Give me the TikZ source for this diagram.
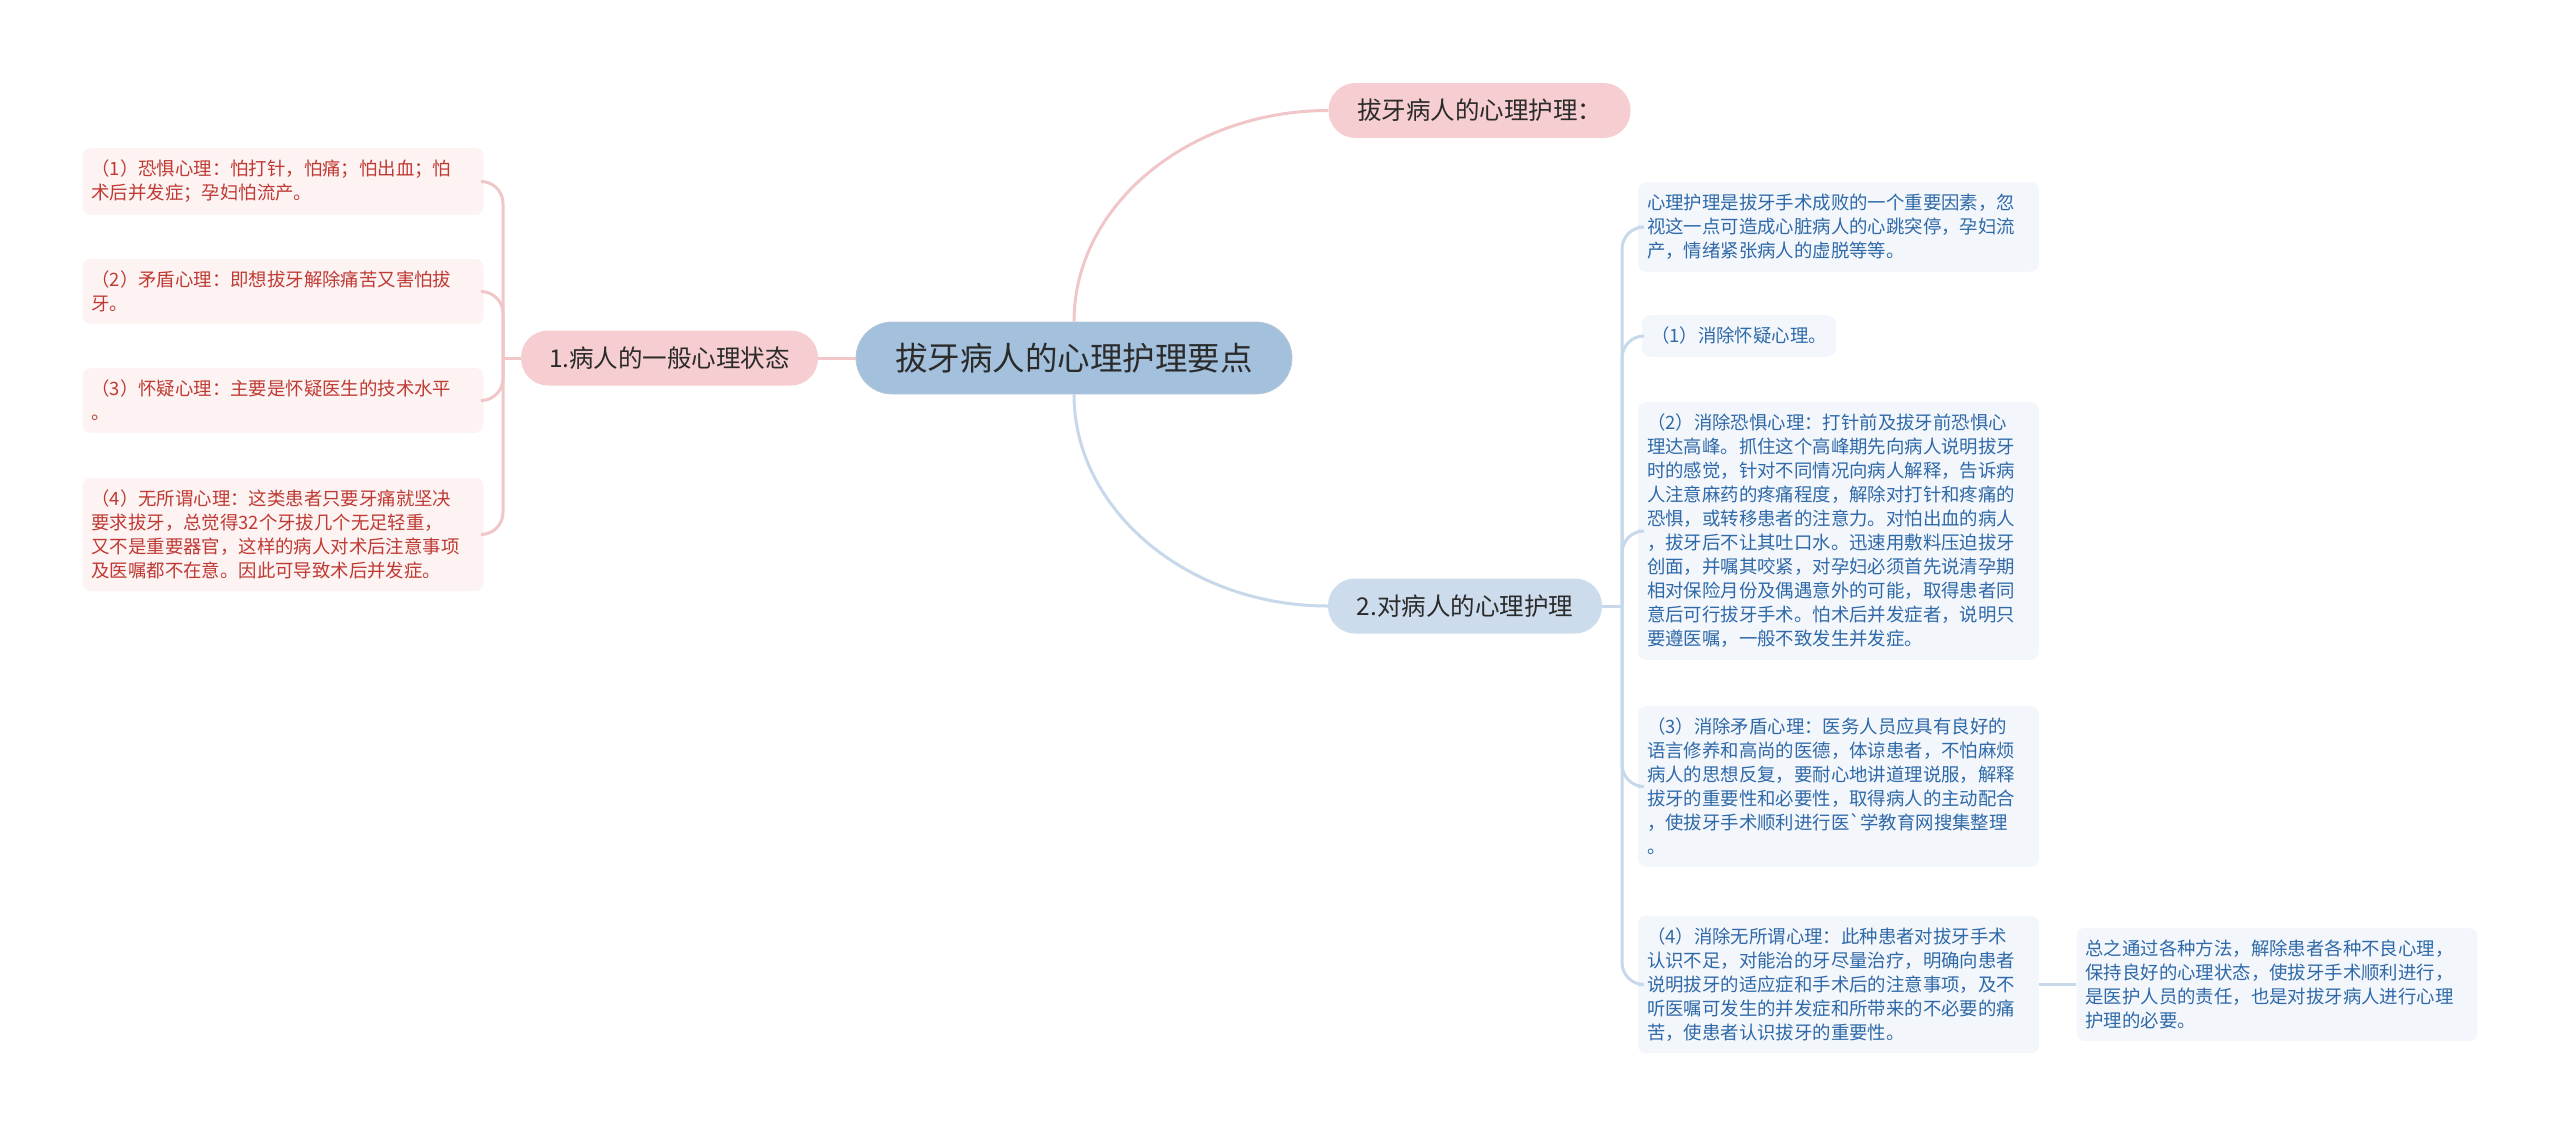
\documentclass[tikz,border=0pt]{standalone}
\usepackage{fontspec}
\newfontfamily\cjk{Noto Sans CJK SC}
\definecolor{rootfill}{HTML}{A3C1DD}
\definecolor{pinkfill}{HTML}{F6CDD0}
\definecolor{bluefill}{HTML}{CCDCEC}
\definecolor{pinkleaf}{HTML}{FDF3F3}
\definecolor{blueleaf}{HTML}{F3F7FC}
\definecolor{redtext}{HTML}{BF3A33}
\definecolor{bluetext}{HTML}{2F69A8}
\definecolor{darktext}{HTML}{2B2B2B}
\definecolor{pinkline}{HTML}{F0C6C8}
\definecolor{blueline}{HTML}{C6D8EA}
\newcommand\leaffont{\cjk\fontsize{18.4}{24}\selectfont}
\tikzset{
    rootbox/.style={fill=rootfill, draw=rootfill!85!black!60, line width=0.8pt, rounded corners=36pt, minimum width=436pt, minimum height=72pt, text=darktext, font=\cjk\fontsize{32.5}{36}\selectfont},
    mainbox/.style={rounded corners=27pt, minimum width=302pt, minimum height=55pt, text=darktext, font=\cjk\fontsize{24.5}{28}\selectfont},
    leafbox/.style={rounded corners=8pt, inner xsep=9pt, inner ysep=12pt, align=left, font=\leaffont},
    leafwide/.style={leafbox, text width=383pt},
    redleaf/.style={fill=pinkleaf, text=redtext},
    blueleafbox/.style={fill=blueleaf, text=bluetext},
    linkp/.style={draw=pinkline, line width=3pt},
    linkb/.style={draw=blueline, line width=3pt}
}
\begin{document}
\begin{tikzpicture}[x=1pt,y=-1pt]
    \useasboundingbox (0,0) rectangle (2560,1138);

    % Central topic
    \node [rootbox] (root) at (1074,358) {拔牙病人的心理护理要点};

    % Main topics
    \node [mainbox, fill=pinkfill] (care) at (1479.5,110.5) {拔牙病人的心理护理：};
    \node [mainbox, fill=pinkfill, minimum width=297pt] (state) at (669.5,358) {1.病人的一般心理状态};
    \node [mainbox, fill=bluefill, minimum width=274pt] (nurse) at (1465,606) {2.对病人的心理护理};

    % Left leaves
    \node [leafwide, redleaf] (l1) at (283,181.5) {（1）恐惧心理：怕打针，怕痛；怕出血；怕\\术后并发症；孕妇怕流产。};
    \node [leafwide, redleaf] (l2) at (283,291.5) {（2）矛盾心理：即想拔牙解除痛苦又害怕拔\\牙。};
    \node [leafwide, redleaf] (l3) at (283,400.5) {（3）怀疑心理：主要是怀疑医生的技术水平\\。};
    \node [leafwide, redleaf] (l4) at (283,534.5) {（4）无所谓心理：这类患者只要牙痛就坚决\\要求拔牙，总觉得32个牙拔几个无足轻重，\\又不是重要器官，这样的病人对术后注意事项\\及医嘱都不在意。因此可导致术后并发症。};

    % Right leaves
    \node [leafwide, blueleafbox] (r1) at (1838.5,227) {心理护理是拔牙手术成败的一个重要因素，忽\\视这一点可造成心脏病人的心跳突停，孕妇流\\产，情绪紧张病人的虚脱等等。};
    \node [leafbox, blueleafbox] (r2) at (1739,336) {（1）消除怀疑心理。};
    \node [leafwide, blueleafbox] (r3) at (1838.5,531) {（2）消除恐惧心理：打针前及拔牙前恐惧心\\理达高峰。抓住这个高峰期先向病人说明拔牙\\时的感觉，针对不同情况向病人解释，告诉病\\人注意麻药的疼痛程度，解除对打针和疼痛的\\恐惧，或转移患者的注意力。对怕出血的病人\\，拔牙后不让其吐口水。迅速用敷料压迫拔牙\\创面，并嘱其咬紧，对孕妇必须首先说清孕期\\相对保险月份及偶遇意外的可能，取得患者同\\意后可行拔牙手术。怕术后并发症者，说明只\\要遵医嘱，一般不致发生并发症。};
    \node [leafwide, blueleafbox] (r4) at (1838.5,786.5) {（3）消除矛盾心理：医务人员应具有良好的\\语言修养和高尚的医德，体谅患者，不怕麻烦\\病人的思想反复，要耐心地讲道理说服，解释\\拔牙的重要性和必要性，取得病人的主动配合\\，使拔牙手术顺利进行医`学教育网搜集整理\\。};
    \node [leafwide, blueleafbox] (r5) at (1838.5,984.5) {（4）消除无所谓心理：此种患者对拔牙手术\\认识不足，对能治的牙尽量治疗，明确向患者\\说明拔牙的适应症和手术后的注意事项，及不\\听医嘱可发生的并发症和所带来的不必要的痛\\苦，使患者认识拔牙的重要性。};
    \node [leafwide, blueleafbox] (r6) at (2277,984.5) {总之通过各种方法，解除患者各种不良心理，\\保持良好的心理状态，使拔牙手术顺利进行，\\是医护人员的责任，也是对拔牙病人进行心理\\护理的必要。};

    % Connectors from the centre
    \draw [linkp] (root.north) .. controls (1074,205) and (1189,110.5) .. (care.west);
    \draw [linkb] (root.south) .. controls (1074,511) and (1189,606) .. (nurse.west);
    \draw [linkp] (root.west) -- (state.east);

    % Left branch
    \coordinate (jl) at (503,358);
    \draw [linkp] (state.west) -- (jl);
    \foreach \leaf in {l1,l2,l3,l4}
        \draw [linkp, rounded corners=22pt] (jl) |- (\leaf.east);

    % Right branch
    \coordinate (jr) at (1622,606);
    \draw [linkb] (nurse.east) -- (jr);
    \foreach \leaf in {r1,r2,r3,r4,r5}
        \draw [linkb, rounded corners=22pt] (jr) |- (\leaf.west);
    \draw [linkb] (r5.east) -- (r6.west);
\end{tikzpicture}
\end{document}
